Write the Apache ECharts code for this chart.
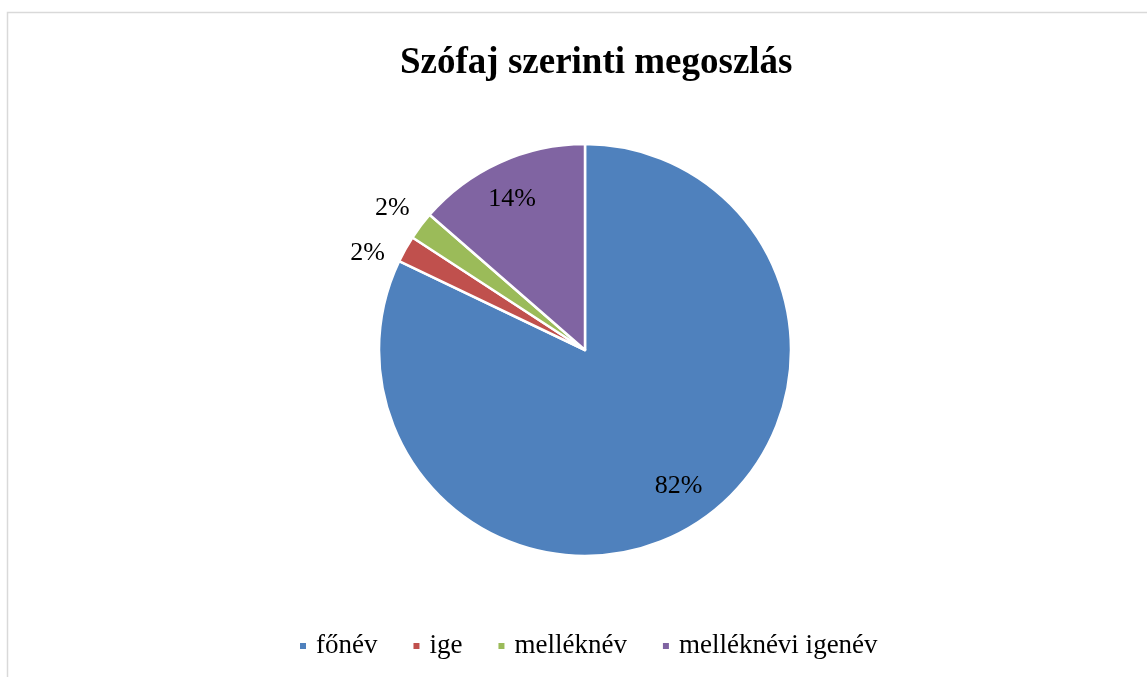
<!DOCTYPE html>
<html>
<head>
<meta charset="utf-8">
<script src="https://cdn.jsdelivr.net/npm/echarts@6/dist/echarts.min.js"></script>
<style>
html,body{margin:0;padding:0;background:#fff;}
#chart{width:1147px;height:677px;}
</style>
</head>
<body>
<div id="chart"></div>
<script>
var titleText = 'Szófaj szerinti megoszlás';
var categories = ['főnév', 'ige', 'melléknév', 'melléknévi igenév'];
var values = [82.1, 2.1, 2.2, 13.6];
var colors = ['#4F81BD', '#C0504D', '#9BBB59', '#8064A2'];

// label nudges (px) from ECharts' default inside position to the reference's placement
var labelShift = [[37, 46], [-125, -45], [-108, -78], [-29, -54]];

var FONT = "'Liberation Serif', 'Times New Roman', serif";

var chart = echarts.init(document.getElementById('chart'), null, {renderer: 'canvas'});

var data = categories.map(function (c, i) {
  return {name: c, value: values[i], itemStyle: {color: colors[i]}};
});

chart.setOption({
  animation: false,
  backgroundColor: '#ffffff',
  title: {
    text: titleText,
    left: 400,
    top: 45,
    padding: 0,
    textStyle: {fontFamily: FONT, fontSize: 37, fontWeight: 'bold', color: '#000', lineHeight: 37}
  },
  legend: {
    data: categories,
    left: 298,
    top: 632,
    padding: 0,
    icon: 'rect',
    itemWidth: 8,
    itemHeight: 8,
    itemGap: 34,
    textStyle: {fontFamily: FONT, fontSize: 27, color: '#000', lineHeight: 28, padding: [0, 0, 0, 4]}
  },
  graphic: [{
    type: 'rect',
    silent: true,
    z: -10,
    shape: {x: 7.5, y: 12.5, width: 1300, height: 800},
    style: {fill: 'none', stroke: '#d9d9d9', lineWidth: 1.5}
  }],
  series: [{
    type: 'pie',
    center: [585, 350],
    radius: [0, 206],
    startAngle: 90,
    clockwise: true,
    avoidLabelOverlap: false,
    itemStyle: {borderColor: '#ffffff', borderWidth: 2.5},
    label: {
      show: true,
      position: 'inside',
      fontFamily: FONT,
      fontSize: 26,
      color: '#000',
      formatter: function (p) { return Math.round(p.percent) + '%'; }
    },
    labelLine: {show: false},
    labelLayout: function (p) {
      var s = labelShift[p.dataIndex];
      return {dx: s[0], dy: s[1]};
    },
    emphasis: {disabled: true},
    data: data
  }]
});
</script>
</body>
</html>
